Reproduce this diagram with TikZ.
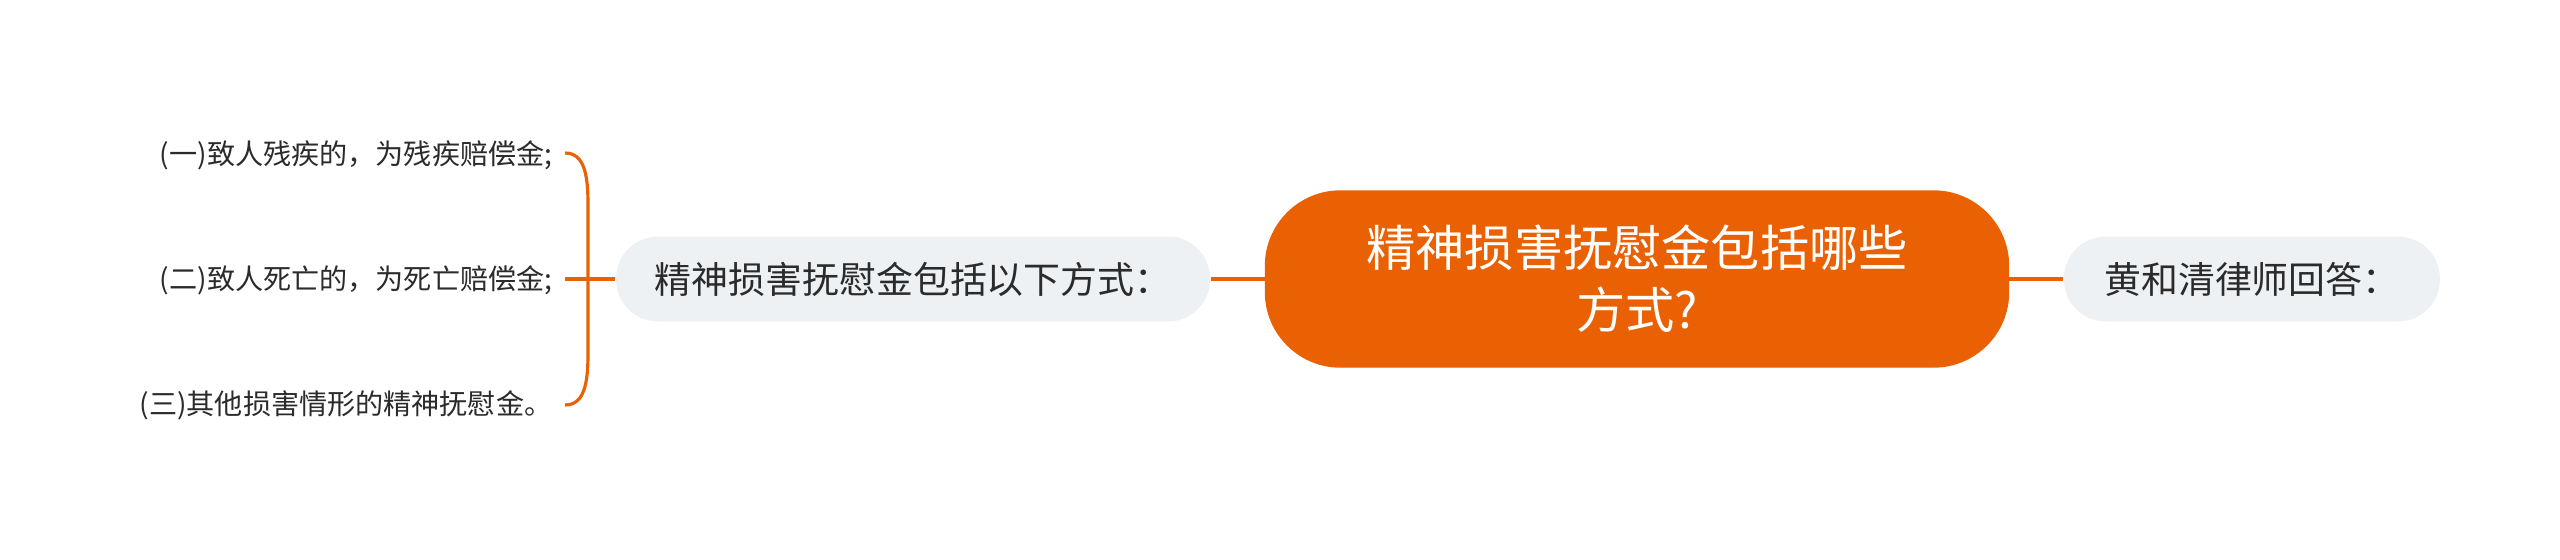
\documentclass[tikz,border=0pt]{standalone}
\usepackage{fontspec}
\setmainfont{Noto Sans CJK SC}
\usetikzlibrary{positioning}
\definecolor{mmorange}{HTML}{EA6104}
\definecolor{mmgray}{HTML}{EEF1F4}
\definecolor{mmtext}{HTML}{2B2B2B}

\begin{document}
\begin{tikzpicture}[
  rootbox/.style={fill=mmorange,draw=mmorange,rounded corners=0.75cm,minimum width=7.43cm,minimum height=1.76cm,text=white,align=center,font=\fontsize{14}{17.6}\selectfont},
  subbox/.style={fill=mmgray,rounded corners=0.42cm,minimum height=0.85cm,text=mmtext,font=\fontsize{10.5}{12}\selectfont},
  leaf/.style={inner sep=0pt,anchor=east,text=mmtext,font=\fontsize{8}{9}\selectfont},
  link/.style={draw=mmorange,line width=0.9pt}
]
\useasboundingbox[fill=white] (0,0) rectangle (25.6,5.59);

\node[rootbox] (root) at (16.37,2.80) {精神损害抚慰金包括哪些\\方式?};
\node[subbox,minimum width=5.94cm,left=0.54cm of root] (lb) {精神损害抚慰金包括以下方式：};
\node[subbox,minimum width=3.76cm,right=0.54cm of root] (rb) {黄和清律师回答：};

\draw[link] (lb.east) -- (root.west);
\draw[link] (root.east) -- (rb.west);

\node[leaf] (l1) at (5.53,4.04) {(一)致人残疾的，为残疾赔偿金;};
\node[leaf] (l2) at (5.53,2.79) {(二)致人死亡的，为死亡赔偿金;};
\node[leaf] (l3) at (5.53,1.54) {(三)其他损害情形的精神抚慰金。};

\coordinate (bt) at (5.65,4.06);
\coordinate (bm) at (5.65,2.80);
\coordinate (bb) at (5.65,1.54);
\draw[link] (bt) .. controls (5.84,4.06) and (5.88,3.85) .. (5.88,3.55) -- (5.88,2.05) .. controls (5.88,1.75) and (5.84,1.54) .. (bb);
\draw[link] (lb.west) -- (bm);
\end{tikzpicture}
\end{document}
